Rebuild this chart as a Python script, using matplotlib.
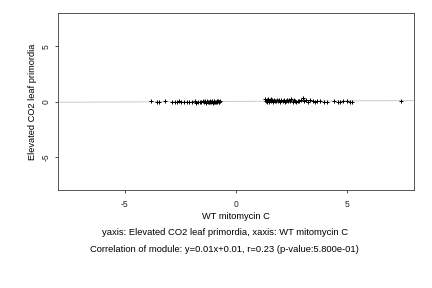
import matplotlib
matplotlib.use("Agg")
import matplotlib.pyplot as plt
import numpy as np

plt.rcParams['font.family'] = ['Liberation Sans', 'DejaVu Sans']

x_left = [-3.8, -3.55, -3.45, -3.2, -2.85, -2.75, -2.65, -2.55, -2.45, -2.35,
          -2.2, -2.1, -1.95, -1.85, -1.8, -1.7, -1.62, -1.55, -1.5, -1.45,
          -1.4, -1.35, -1.3, -1.27, -1.22, -1.18, -1.15, -1.1, -1.07, -1.03,
          -1.0, -0.97, -0.93, -0.9, -0.87, -0.84, -0.81, -0.78, -0.75, -0.72]
y_left = [0.05, -0.05, 0.0, 0.05, -0.05, 0.0, -0.05, 0.02, -0.03, 0.0,
          -0.05, 0.0, -0.08, 0.02, -0.1, -0.05, 0.0, -0.08, 0.03, -0.06,
          0.02, -0.1, 0.05, -0.04, 0.0, -0.08, 0.06, -0.03, 0.02, -0.1,
          0.04, -0.05, 0.0, -0.07, 0.05, -0.02, 0.03, -0.06, 0.0, 0.02]
x_right = [1.32, 1.35, 1.38, 1.4, 1.43, 1.46, 1.5, 1.53, 1.57, 1.6,
           1.64, 1.68, 1.72, 1.76, 1.8, 1.85, 1.9, 1.95, 2.0, 2.05,
           2.1, 2.15, 2.2, 2.25, 2.3, 2.35, 2.4, 2.45, 2.5, 2.55,
           2.6, 2.65, 2.7, 2.78, 2.85, 2.92, 3.0, 3.08, 3.15, 3.25,
           3.35, 3.45, 3.55, 3.65, 3.8, 3.95, 4.1, 4.4, 4.6, 4.7,
           4.8, 5.0, 5.15, 5.2, 7.4]
y_right = [0.2, 0.05, 0.15, -0.05, 0.1, 0.25, 0.0, 0.12, 0.2, 0.05,
           0.1, 0.0, 0.18, 0.08, 0.02, 0.15, 0.05, 0.1, 0.0, 0.12,
           0.05, 0.15, 0.0, 0.08, 0.1, 0.02, 0.15, 0.05, 0.2, 0.0,
           0.1, 0.05, 0.0, 0.08, 0.02, 0.1, 0.3, 0.05, 0.1, 0.0,
           0.12, 0.05, 0.0, 0.08, 0.02, -0.05, 0.0, 0.08, -0.05, 0.0,
           0.05, 0.02, -0.03, 0.0, 0.02]

slope, intercept = 0.01, 0.01
xlim = (-8, 8)
ylim = (-8, 8)
ticks = [-5, 0, 5]

fig = plt.figure(figsize=(6, 4), dpi=72)
ax = fig.add_axes([0.134, 0.34, 0.824, 0.615])

xl = np.array(xlim)
ax.plot(xl, slope * xl + intercept, color='#cccccc', lw=1.0, zorder=1)
ax.scatter(x_left + x_right, y_left + y_right, marker='+', s=22, c='black',
           linewidths=1.0, zorder=2)

ax.set_xlim(*xlim)
ax.set_ylim(*ylim)
ax.set_xticks(ticks)
ax.set_yticks(ticks)
ax.set_xticklabels([str(t) for t in ticks])
ax.set_yticklabels([str(t) for t in ticks], rotation=90, va='center')
ax.tick_params(direction='out', length=3, width=0.8, labelsize=8.5, colors='#222222', pad=7)
ax.tick_params(axis='y', pad=4)
for s in ax.spines.values():
    s.set_color('#333333')
    s.set_linewidth(0.8)

ax.set_xlabel('WT mitomycin C', fontsize=9.3, labelpad=3)
ax.set_ylabel('Elevated CO2 leaf primordia', fontsize=9.3, labelpad=5)

fig.text(0.52, 0.191, 'yaxis: Elevated CO2 leaf primordia, xaxis: WT mitomycin C',
         ha='center', va='center', fontsize=9.4)
fig.text(0.52, 0.132, 'Correlation of module: y=0.01x+0.01, r=0.23 (p-value:5.800e-01)',
         ha='center', va='center', fontsize=9.4)

fig.savefig('out.png', dpi=72)
